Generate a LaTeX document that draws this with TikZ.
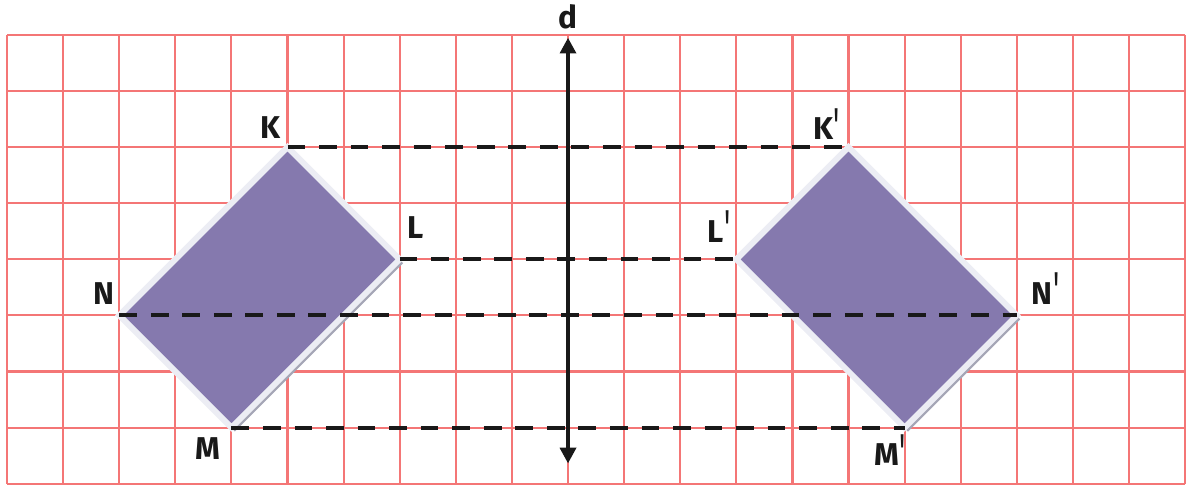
\documentclass[tikz,border=0pt]{standalone}
\usepackage{fontspec}
\setmainfont{Fira Sans}
\usetikzlibrary{arrows.meta}
\definecolor{gridred}{RGB}{244,118,118}
\definecolor{shapefill}{RGB}{133,121,174}
\definecolor{shapeedge}{RGB}{236,237,244}
\definecolor{shapeshadow}{RGB}{165,166,182}
\tikzset{
  gridline/.style={draw=gridred, line width=1.1pt},
  figshadow/.style={fill=shapeshadow},
  figbody/.style={draw=shapeedge, line width=3pt, fill=shapefill, line join=miter},
  mirrorline/.style={draw=black!90, line width=2pt, dash pattern=on 9pt off 7pt},
  axisline/.style={draw=black!90, line width=2pt, {Triangle[length=8pt,width=8pt]}-{Triangle[length=8pt,width=8pt]}},
  ptlabel/.style={font=\fontsize{16}{16}\selectfont\bfseries, inner sep=0pt, anchor=base west, text=black!90},
}
\newcommand{\prm}{\kern0.5pt\raisebox{-0.2ex}{\scalebox{0.9}[1.6]{\mdseries\textquotesingle}}}
\begin{document}
\begin{tikzpicture}
\useasboundingbox (-0.125,-0.13) rectangle (21.016,8.622);
% grid
\draw[gridline] (0,0) grid (21,8);
% vertices
\coordinate (K) at (5,6);
\coordinate (L) at (7,4);
\coordinate (N) at (2,3);
\coordinate (M) at (4,1);
\coordinate (K1) at (15,6);
\coordinate (L1) at (13,4);
\coordinate (N1) at (18,3);
\coordinate (M1) at (16,1);
% shapes
\fill[figshadow] ([shift={(0.06,-0.07)}]K) -- ([shift={(0.06,-0.07)}]L) -- ([shift={(0.06,-0.07)}]M) -- ([shift={(0.06,-0.07)}]N) -- cycle;
\draw[figbody] (K) -- (L) -- (M) -- (N) -- cycle;
\fill[figshadow] ([shift={(0.06,-0.07)}]K1) -- ([shift={(0.06,-0.07)}]N1) -- ([shift={(0.06,-0.07)}]M1) -- ([shift={(0.06,-0.07)}]L1) -- cycle;
\draw[figbody] (K1) -- (N1) -- (M1) -- (L1) -- cycle;
% dashed lines
\draw[mirrorline] (K) -- (K1);
\draw[mirrorline] (L) -- (L1);
\draw[mirrorline] (N) -- (N1);
\draw[mirrorline] (M) -- (M1);
% axis
\coordinate (dbot) at (10,0.36);
\coordinate (dtop) at (10,7.95);
\draw[axisline] (dbot) -- (dtop);
\node[font=\fontsize{16}{16}\selectfont\bfseries, text=black!90, inner sep=0pt] (dlab) at (10,8.33) {d};
% labels
\node[ptlabel] (lK) at (4.52,6.15) {K};
\node[ptlabel] (lL) at (7.13,4.37) {L};
\node[ptlabel] (lN) at (1.54,3.20) {N};
\node[ptlabel] (lM) at (3.36,0.44) {M};
\node[ptlabel] (lK1) at (14.36,6.13) {K\prm};
\node[ptlabel] (lL1) at (12.48,4.30) {L\prm};
\node[ptlabel] (lN1) at (18.25,3.20) {N\prm};
\node[ptlabel] (lM1) at (15.45,0.32) {M\prm};
\end{tikzpicture}
\end{document}
